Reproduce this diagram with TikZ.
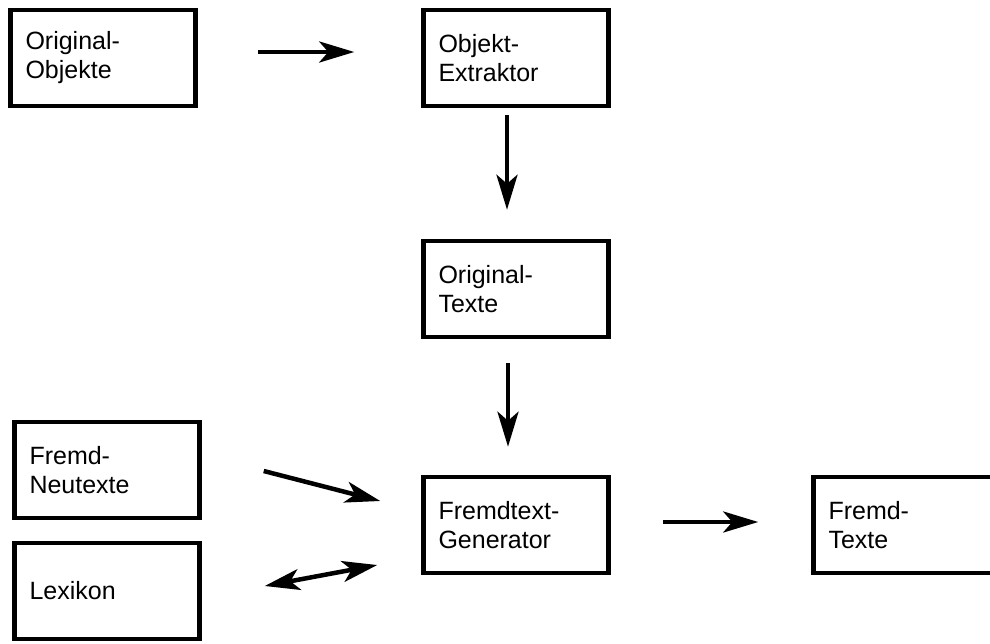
\documentclass[tikz,border=0pt]{standalone}
\usepackage{fontspec}
\setmainfont{Liberation Sans}
\usepackage{tikz}
\usetikzlibrary{arrows.meta}

\begin{document}
\begin{tikzpicture}[x=1pt, y=-1pt, node distance=2.0cm,
			>={Stealth[length=35pt,width=21pt,inset=9pt]},
			box node/.style={rectangle,draw,line width=4.5pt,minimum height=96pt,
				text width=155pt,inner xsep=15pt,align=left,
				font=\fontsize{25}{29}\selectfont},
			flow/.style={line width=4.5pt,->}]
			
			\clip (0,0) rectangle (990,643);
			
			\node[box node] (obj) at (103,58) {Original-\\Objekte};
			\node[box node] (extr) [right of=obj, node distance=413pt] {Objekt-\\Extraktor};
			\node[box node] (otexte) [below of=extr, node distance=231pt] {Original-\\Texte};
			\node[box node] (gen) [below of=otexte, node distance=236pt] {Fremdtext-\\Generator};
			\node[box node] (ftexte) [right of=gen, node distance=390pt] {Fremd-\\Texte};
			\node[box node] (neu) at (107,470) {Fremd-\\Neutexte};
			\node[box node] (lex) [below of=neu, node distance=121pt] {Lexikon};
			
			\draw[flow] ([xshift=60pt,yshift=6pt]obj.east) -- ([xshift=-67pt,yshift=6pt]extr.west);
			\draw[flow] ([xshift=-9pt,yshift=-7pt]extr.south) -- ([xshift=-9pt,yshift=29pt]otexte.north);
			\draw[flow] ([xshift=-8pt,yshift=-24pt]otexte.south) -- ([xshift=-8pt,yshift=28pt]gen.north);
			\draw[flow] ([xshift=62pt,yshift=-1pt]neu.east) -- ([xshift=-41pt,yshift=24pt]gen.west);
			\draw[flow,<->] ([xshift=63pt,yshift=5pt]lex.east) -- ([xshift=-44pt,yshift=-40pt]gen.west);
			\draw[flow] ([xshift=52pt,yshift=3pt]gen.east) -- ([xshift=-53pt,yshift=3pt]ftexte.west);
			
\end{tikzpicture}
\end{document}
